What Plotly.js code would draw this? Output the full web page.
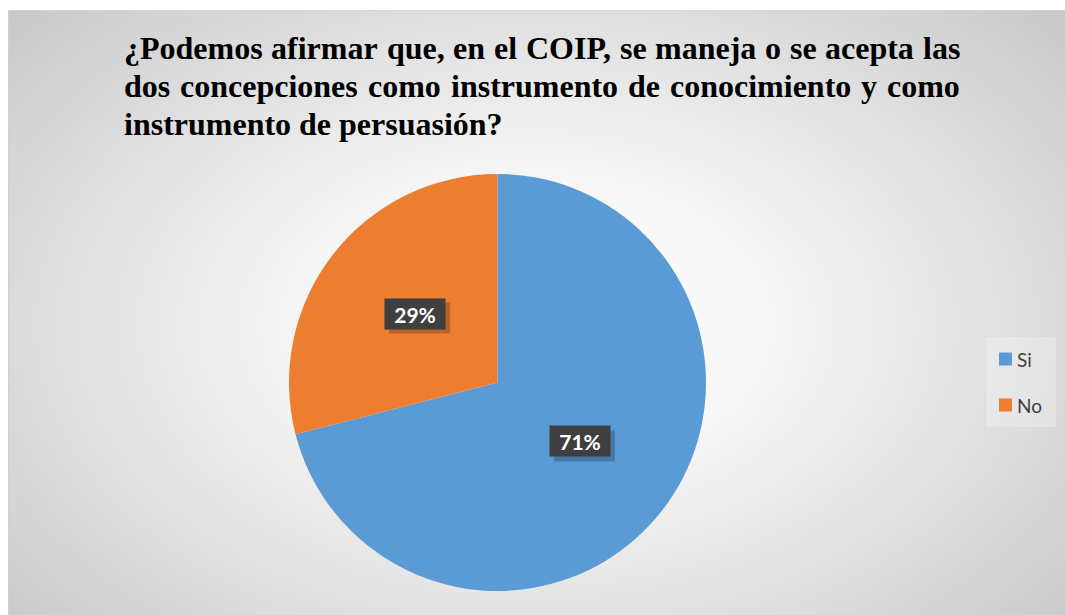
<!DOCTYPE html>
<html>
<head>
<meta charset="utf-8">
<script src="https://cdn.plot.ly/plotly-3.0.1.min.js"></script>
<style>
  html, body { margin:0; padding:0; background:#ffffff; }
  #bg { position:absolute; left:8px; top:10px; width:1057px; height:605px;
        background: radial-gradient(ellipse 72% 82% at 50% 52%, #ffffff 0%, #f6f6f6 30%, #dadada 70%, #c4c4c4 100%);
        border-top:1px solid #d4d4d4; border-left:1px solid #d0d0d0; box-sizing:border-box; }
  #chart { position:absolute; left:0; top:0; width:1065px; height:615px; }
</style>
</head>
<body>
<div id="bg"></div>
<div id="chart"></div>
<script>
const titleLines = [
  "¿Podemos afirmar que, en el COIP, se maneja o se acepta las",
  "dos concepciones como instrumento de conocimiento y como",
  "instrumento de persuasión?"
];
const categories = ["Si", "No"];
const values = [71, 29];
const colors = ["#5B9BD5", "#ED7D31"];

const W = 1065, H = 615;
const cx = 497.5, cy = 382.5, R = 208.5;

const pie = {
  type: "pie",
  labels: categories,
  values: values,
  sort: false,
  direction: "clockwise",
  rotation: 0,
  marker: { colors: colors, line: { width: 0 } },
  textinfo: "none",
  hoverinfo: "label+percent",
  showlegend: false,
  domain: { x: [(cx - R) / W, (cx + R) / W], y: [1 - (cy + R) / H, 1 - (cy - R) / H] }
};

const annotations = [];
const shapes = [];

// Title: justified lines (last line left-aligned)
const titleFontFamily = "'Liberation Serif', 'Times New Roman', serif";
const titleSize = 32;
const tLeft = 122, tRight = 958;
const lineY = [48, 86, 124];
const canvas = document.createElement("canvas");
const ctx = canvas.getContext("2d");
ctx.font = "bold " + titleSize + "px 'Liberation Serif'";
titleLines.forEach((line, li) => {
  const words = line.split(" ");
  const isLast = li === titleLines.length - 1;
  const widths = words.map(w => ctx.measureText(w).width);
  const sumW = widths.reduce((a, b) => a + b, 0);
  const gap = isLast ? ctx.measureText(" ").width : (tRight - tLeft - sumW) / (words.length - 1);
  let x = tLeft;
  words.forEach((w, wi) => {
    annotations.push({
      xref: "paper", yref: "paper", x: x / W, y: 1 - lineY[li] / H,
      text: "<b>" + w + "</b>", showarrow: false, xanchor: "left", yanchor: "middle",
      font: { family: titleFontFamily, size: titleSize, color: "#000000" }
    });
    x += widths[wi] + gap;
  });
});

// data labels positioned from slice mid-angles
const total = values.reduce((a, b) => a + b, 0);
const boxW = 60, boxH = 30;
let acc = 0;
values.forEach((v, i) => {
  const mid = (acc + v / 2) / total * 2 * Math.PI;
  acc += v;
  const px = cx + 0.5 * R * Math.sin(mid);
  const py = cy - 0.5 * R * Math.cos(mid) - 5;
  const txt = "<b>" + Math.round(v / total * 100) + "%</b>";
  shapes.push({ type: "rect", xref: "paper", yref: "paper",
    x0: (px - boxW / 2 + 4) / W, x1: (px + boxW / 2 + 5) / W,
    y0: 1 - (py + boxH / 2 + 5) / H, y1: 1 - (py - boxH / 2 + 4) / H,
    fillcolor: "rgba(0,0,0,0.22)", line: { width: 0 }, layer: "above" });
  annotations.push({
    xref: "paper", yref: "paper", x: px / W, y: 1 - py / H,
    text: txt, showarrow: false, width: boxW, height: boxH, borderpad: 0,
    font: { family: "Lato, 'Open Sans', sans-serif", size: 21, color: "#ffffff" },
    bgcolor: "#3f3f3f", xanchor: "center", yanchor: "middle", valign: "middle"
  });
});

// custom legend
const legX0 = 986, legY0 = 337, legX1 = 1056, legY1 = 427;
shapes.push({ type: "rect", xref: "paper", yref: "paper",
  x0: legX0 / W, x1: legX1 / W, y0: 1 - legY1 / H, y1: 1 - legY0 / H,
  fillcolor: "rgba(255,255,255,0.25)", line: { width: 0 }, layer: "below" });
categories.forEach((c, i) => {
  const yc = 359 + i * 46;
  shapes.push({ type: "rect", xref: "paper", yref: "paper",
    x0: 999 / W, x1: 1012 / W, y0: 1 - (yc + 6.5) / H, y1: 1 - (yc - 6.5) / H,
    fillcolor: colors[i], line: { width: 0 } });
  annotations.push({ xref: "paper", yref: "paper", x: 1015 / W, y: 1 - yc / H,
    text: c, showarrow: false, xanchor: "left", yanchor: "middle",
    font: { family: "Lato, 'Open Sans', sans-serif", size: 19, color: "#404040" } });
});

const layout = {
  width: W, height: H,
  margin: { l: 0, r: 0, t: 0, b: 0 },
  paper_bgcolor: "rgba(0,0,0,0)",
  plot_bgcolor: "rgba(0,0,0,0)",
  annotations: annotations,
  shapes: shapes,
  showlegend: false
};

Plotly.newPlot("chart", [pie], layout, { displayModeBar: false, staticPlot: true });
</script>
</body>
</html>
